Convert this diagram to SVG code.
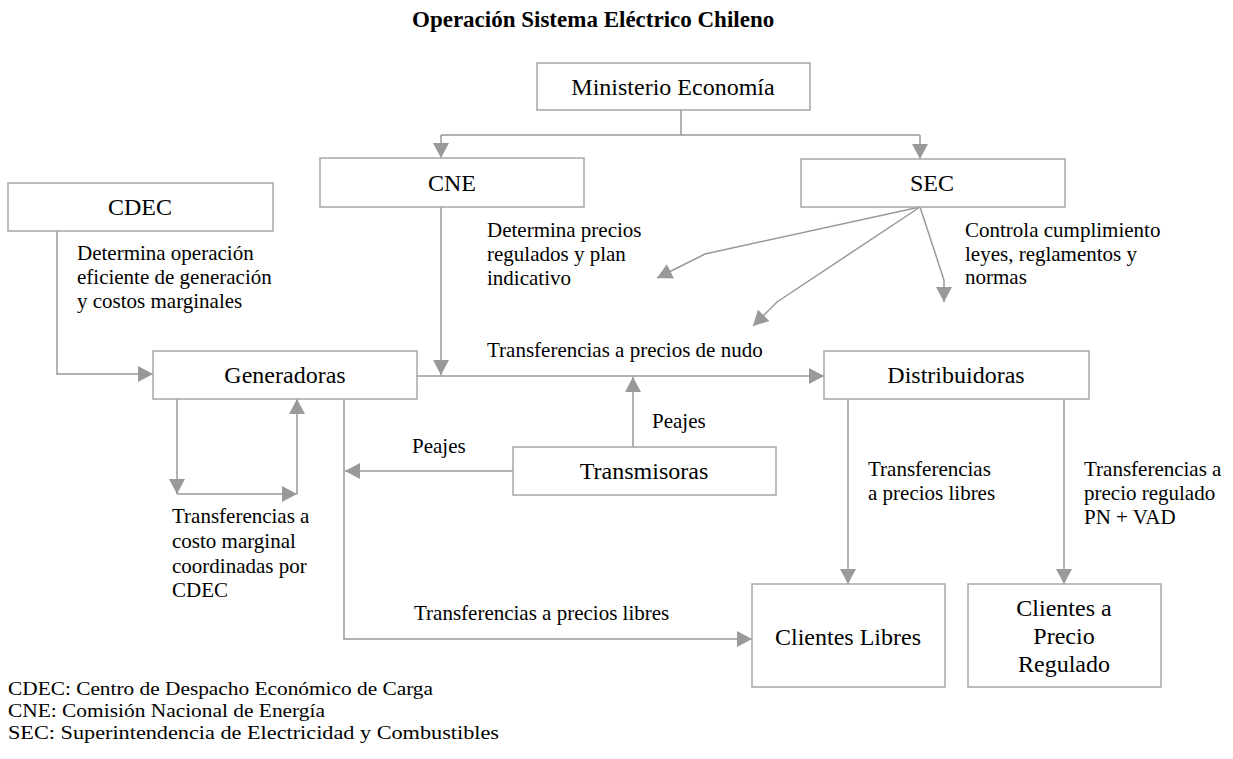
<svg xmlns="http://www.w3.org/2000/svg" width="1233" height="759" viewBox="0 0 1233 759">
<style>
.box{fill:#fff;stroke:#a6a6a6;stroke-width:1.5}
.nt{font-family:"Liberation Serif","Times New Roman",serif;font-size:24px;fill:#000;text-anchor:middle}
.lb{font-family:"Liberation Serif","Times New Roman",serif;font-size:21px;fill:#000}
.lg{font-family:"Liberation Serif","Times New Roman",serif;font-size:19px;fill:#000}
.ttl{font-family:"Liberation Serif","Times New Roman",serif;font-size:23px;font-weight:bold;fill:#000}
.ln{fill:none;stroke:#999;stroke-width:1.5}
.ar{fill:none;stroke:#999;stroke-width:1.5;marker-end:url(#ah)}
</style>
<defs>
<marker id="ah" markerUnits="userSpaceOnUse" markerWidth="16" markerHeight="16" refX="15" refY="8" orient="auto" viewBox="0 0 16 16">
<path d="M0,0 L15,8 L0,16 Z" fill="#999"/>
</marker>
</defs>
<text class="ttl" x="412" y="27">Operación Sistema Eléctrico Chileno</text>
<g id="connectors">
<path class="ln" d="M681,110 V135 M441,135 H920"/>
<path class="ar" d="M441,135 V158"/>
<path class="ar" d="M920,135 V159"/>
<path class="ar" d="M57,231 V374 H153"/>
<path class="ar" d="M441,207 V375"/>
<path class="ar" d="M417,376 H824"/>
<path class="ar" d="M633,447 V377"/>
<path class="ar" d="M920,207 L705,254 L657,278"/>
<path class="ar" d="M920,207 L777,302 L753,326"/>
<path class="ar" d="M920,207 L944,280 V302"/>
<path class="ar" d="M177,399 V494"/>
<path class="ar" d="M177,494 H297"/>
<path class="ar" d="M297,494 V399"/>
<path class="ar" d="M513,471 H345"/>
<path class="ar" d="M344,399 V639 H752"/>
<path class="ar" d="M848,399 V584"/>
<path class="ar" d="M1064,399 V584"/>
</g>
<g id="ministerio"><rect class="box" x="537" y="63" width="273" height="47"/><text class="nt" x="673" y="95">Ministerio Economía</text></g>
<g id="cdec"><rect class="box" x="8" y="183" width="265" height="48"/><text class="nt" x="140" y="215">CDEC</text></g>
<g id="cne"><rect class="box" x="320" y="158" width="264" height="49"/><text class="nt" x="452" y="191">CNE</text></g>
<g id="sec"><rect class="box" x="801" y="159" width="264" height="48"/><text class="nt" x="932" y="191">SEC</text></g>
<g id="generadoras"><rect class="box" x="153" y="351" width="264" height="48"/><text class="nt" x="285" y="383">Generadoras</text></g>
<g id="distribuidoras"><rect class="box" x="824" y="351" width="265" height="48"/><text class="nt" x="956" y="383">Distribuidoras</text></g>
<g id="transmisoras"><rect class="box" x="513" y="447" width="263" height="48"/><text class="nt" x="644" y="479">Transmisoras</text></g>
<g id="clientes-libres"><rect class="box" x="752" y="584" width="193" height="103"/><text class="nt" x="848" y="645">Clientes Libres</text></g>
<g id="clientes-regulado"><rect class="box" x="968" y="584" width="193" height="103"/><text class="nt" x="1064" y="616">Clientes a</text><text class="nt" x="1064" y="644">Precio</text><text class="nt" x="1064" y="672">Regulado</text></g>
<g id="labels">
<text class="lb" x="77" y="260">Determina operación</text>
<text class="lb" x="77" y="284">eficiente de generación</text>
<text class="lb" x="77" y="308">y costos marginales</text>
<text class="lb" x="487" y="237">Determina precios</text>
<text class="lb" x="487" y="261">regulados y plan</text>
<text class="lb" x="487" y="285">indicativo</text>
<text class="lb" x="965" y="237">Controla cumplimiento</text>
<text class="lb" x="965" y="261">leyes, reglamentos y</text>
<text class="lb" x="965" y="284">normas</text>
<text class="lb" x="487" y="357">Transferencias a precios de nudo</text>
<text class="lb" x="652" y="428">Peajes</text>
<text class="lb" x="412" y="453">Peajes</text>
<text class="lb" x="172" y="523">Transferencias a</text>
<text class="lb" x="172" y="548">costo marginal</text>
<text class="lb" x="172" y="573">coordinadas por</text>
<text class="lb" x="172" y="597">CDEC</text>
<text class="lb" x="868" y="476">Transferencias</text>
<text class="lb" x="868" y="500">a precios libres</text>
<text class="lb" x="1084" y="476">Transferencias a</text>
<text class="lb" x="1084" y="500">precio regulado</text>
<text class="lb" x="1084" y="524">PN + VAD</text>
<text class="lb" x="414" y="620">Transferencias a precios libres</text>
</g>
<g id="legend">
<text class="lg" x="8" y="695" textLength="425" lengthAdjust="spacingAndGlyphs">CDEC: Centro de Despacho Económico de Carga</text>
<text class="lg" x="8" y="717" textLength="317" lengthAdjust="spacingAndGlyphs">CNE: Comisión Nacional de Energía</text>
<text class="lg" x="8" y="739" textLength="491" lengthAdjust="spacingAndGlyphs">SEC: Superintendencia de Electricidad y Combustibles</text>
</g>
</svg>
